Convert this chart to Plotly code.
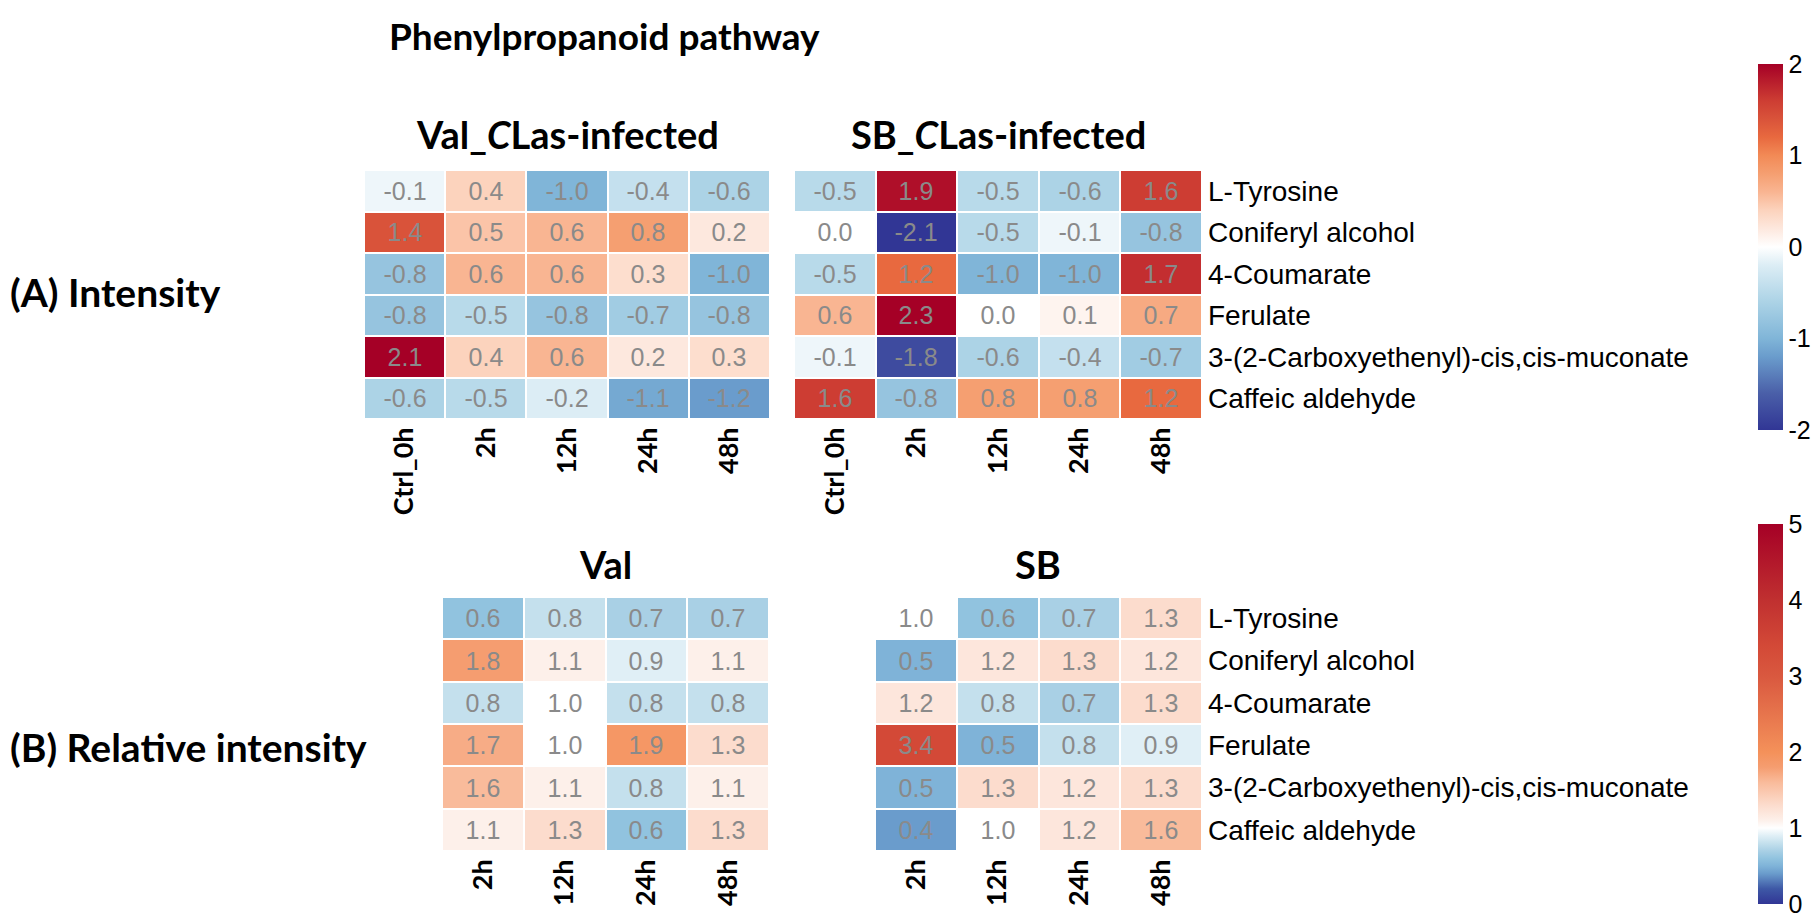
import plotly.graph_objects as go

# figure size in pixels, everything below is placed in paper fractions of this
W, H = 1819, 919

compounds = ['L-Tyrosine', 'Coniferyl alcohol', '4-Coumarate', 'Ferulate',
             '3-(2-Carboxyethenyl)-cis,cis-muconate', 'Caffeic aldehyde']
times_a = ['Ctrl_0h', '2h', '12h', '24h', '48h']
times_b = ['2h', '12h', '24h', '48h']

# (A) Intensity, z-scores
val_infected = [[-0.1, 0.4, -1.0, -0.4, -0.6],
                [1.4, 0.5, 0.6, 0.8, 0.2],
                [-0.8, 0.6, 0.6, 0.3, -1.0],
                [-0.8, -0.5, -0.8, -0.7, -0.8],
                [2.1, 0.4, 0.6, 0.2, 0.3],
                [-0.6, -0.5, -0.2, -1.1, -1.2]]
sb_infected = [[-0.5, 1.9, -0.5, -0.6, 1.6],
               [0.0, -2.1, -0.5, -0.1, -0.8],
               [-0.5, 1.2, -1.0, -1.0, 1.7],
               [0.6, 2.3, 0.0, 0.1, 0.7],
               [-0.1, -1.8, -0.6, -0.4, -0.7],
               [1.6, -0.8, 0.8, 0.8, 1.2]]

# (B) Relative intensity (fold vs control)
val_rel = [[0.6, 0.8, 0.7, 0.7],
           [1.8, 1.1, 0.9, 1.1],
           [0.8, 1.0, 0.8, 0.8],
           [1.7, 1.0, 1.9, 1.3],
           [1.6, 1.1, 0.8, 1.1],
           [1.1, 1.3, 0.6, 1.3]]
sb_rel = [[1.0, 0.6, 0.7, 1.3],
          [0.5, 1.2, 1.3, 1.2],
          [1.2, 0.8, 0.7, 1.3],
          [3.4, 0.5, 0.8, 0.9],
          [0.5, 1.3, 1.2, 1.3],
          [0.4, 1.0, 1.2, 1.6]]

cbar_a_ticks = [-2, -1, 0, 1, 2]
cbar_a_text = ['-2', '-1', '0', '1', '2']
cbar_b_ticks = [0, 1, 2, 3, 4, 5]
cbar_b_text = ['0', '1', '2', '3', '4', '5']

# blue - white - red, white at 0 for A and at 1 for B
scale_a = [[0.0, '#313695'], [0.1, '#4a5fa8'], [0.2, '#6a9ccc'], [0.25, '#80b5d8'],
           [0.35, '#acd3e6'], [0.45, '#dcedf5'], [0.5, '#ffffff'], [0.55, '#fde8de'],
           [0.6, '#fcd3bd'], [0.65, '#f9b592'], [0.7, '#f59f71'], [0.75, '#f28a56'],
           [0.8, '#e8693f'], [0.85, '#d9533a'], [0.9, '#cd3d33'], [1.0, '#a50026']]
scale_b = [[0.0, '#313695'], [0.04, '#3e58a6'], [0.08, '#6a9ccc'], [0.1, '#7fb3d8'],
           [0.12, '#91c3df'], [0.14, '#a9d0e5'], [0.16, '#c4e0ed'], [0.18, '#e0eff6'],
           [0.2, '#ffffff'], [0.22, '#fdf0ea'], [0.26, '#fcdccd'], [0.32, '#f9bb9b'],
           [0.36, '#f59d70'], [0.4, '#f4915a'], [0.6, '#d9583f'], [0.68, '#d34937'],
           [0.8, '#c03030'], [1.0, '#a50026']]


def fx(px):
    return px / W


def fy(py):
    return 1 - py / H


CELL_FONT = dict(family='Liberation Sans', size=25, color='#8a8a8a')
BOLD = dict(family='Lato', weight='bold', color='black')

fig = go.Figure()

panels = [
    (val_infected, times_a, 'x', 'y', 'coloraxis'),
    (sb_infected, times_a, 'x2', 'y2', 'coloraxis'),
    (val_rel, times_b, 'x3', 'y3', 'coloraxis2'),
    (sb_rel, times_b, 'x4', 'y4', 'coloraxis2'),
]
for z, cols, xa, ya, ca in panels:
    fig.add_trace(go.Heatmap(z=z, x=cols, y=compounds, xaxis=xa, yaxis=ya,
                             coloraxis=ca, xgap=2, ygap=2,
                             texttemplate='%{z:.1f}', textfont=CELL_FONT))

domains = {
    'xaxis': [fx(356), fx(762)], 'yaxis': [fy(411), fy(162)],
    'xaxis2': [fx(786), fx(1194)], 'yaxis2': [fy(411), fy(162)],
    'xaxis3': [fx(434), fx(761)], 'yaxis3': [fy(843), fy(589)],
    'xaxis4': [fx(867), fx(1194)], 'yaxis4': [fy(843), fy(589)],
}
anchors = {'xaxis': 'y', 'yaxis': 'x', 'xaxis2': 'y2', 'yaxis2': 'x2',
           'xaxis3': 'y3', 'yaxis3': 'x3', 'xaxis4': 'y4', 'yaxis4': 'x4'}

layout_axes = {}
for name, dom in domains.items():
    ax = dict(domain=dom, anchor=anchors[name], showgrid=False, zeroline=False,
              showline=False, automargin=False, ticks='')
    if name.startswith('x'):
        ax.update(tickangle=-90, ticklabelstandoff=2,
                  tickfont=dict(family='Lato', weight='bold', size=27, color='black'))
    else:
        ax.update(autorange='reversed')
        if name in ('yaxis2', 'yaxis4'):
            ax.update(side='right', ticklabelstandoff=5,
                      tickfont=dict(family='Liberation Sans', size=28, color='black'))
        else:
            ax.update(showticklabels=False)
    layout_axes[name] = ax

cbar_font = dict(family='Liberation Sans', size=25, color='black')
cbar_common = dict(x=fx(1750), xanchor='left', yanchor='top', lenmode='fraction',
                   thickness=25, outlinewidth=0, xpad=0, ypad=0, ticks='',
                   tickfont=cbar_font)
fig.update_layout(
    width=W, height=H,
    margin=dict(l=0, r=0, t=0, b=0),
    paper_bgcolor='white', plot_bgcolor='white',
    showlegend=False,
    coloraxis=dict(cmin=-2, cmax=2, colorscale=scale_a,
                   colorbar=dict(cbar_common, y=fy(56), len=(422 - 56) / H,
                                 tickvals=cbar_a_ticks, ticktext=cbar_a_text)),
    coloraxis2=dict(cmin=0, cmax=5, colorscale=scale_b,
                    colorbar=dict(cbar_common, y=fy(516), len=(896 - 516) / H,
                                  tickvals=cbar_b_ticks, ticktext=cbar_b_text)),
    **layout_axes
)

# titles and panel labels
texts = [
    ('Phenylpropanoid pathway', 379, 28, 37, 'left'),
    ('Val_<i>C</i>Las-infected', 559, 126, 38, 'center'),
    ('SB_<i>C</i>Las-infected', 990, 126, 38, 'center'),
    ('Val', 597, 556, 38, 'center'),
    ('SB', 1030, 556, 38, 'center'),
    ('(A) Intensity', 0, 284, 39, 'left'),
    ('(B) Relative intensity', 0, 739, 39, 'left'),
]
for txt, x, y, size, anchor in texts:
    fig.add_annotation(text=txt, x=fx(x), y=fy(y), xref='paper', yref='paper',
                       xanchor=anchor, yanchor='middle', showarrow=False,
                       font=dict(BOLD, size=size))

fig.write_html("out.html")
